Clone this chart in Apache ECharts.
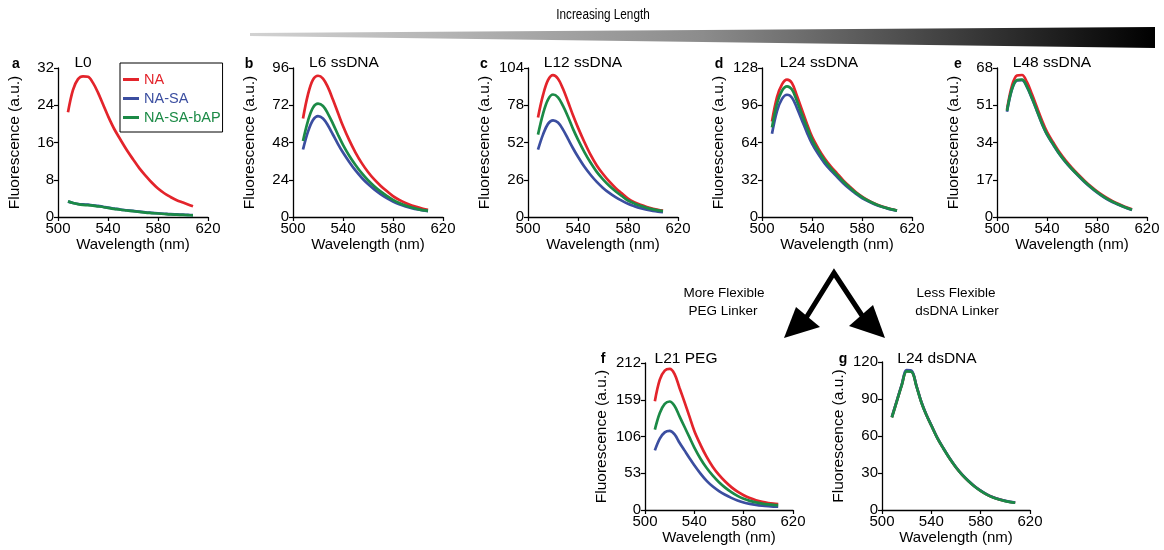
<!DOCTYPE html>
<html><head><meta charset="utf-8">
<script src="https://cdn.jsdelivr.net/npm/echarts@6/dist/echarts.min.js"></script>
<style>html,body{margin:0;padding:0;background:#fff}#c{width:1164px;height:550px}</style>
</head><body><div id="c"></div>
<script>
const wavelengths = [508,512,516,520,524,528,532,536,540,545,550,555,560,565,570,575,580,585,590,595,600,604,608];
const seriesNames = ['NA','NA-SA','NA-SA-bAP'];
const seriesColors = ['#e3242b','#3b4ea0','#1b8a46'];
const panelLetters = ['a','b','c','d','e','f','g'];
const panelTitles = ['L0','L6 ssDNA','L12 ssDNA','L24 ssDNA','L48 ssDNA','L21 PEG','L24 dsDNA'];
const yMax = [32,96,104,128,68,212,120];
const xTicks = [500,540,580,620];

// L0
const L0_NA       = [22.5,27.3,29.6,30.2,30.1,28.8,26.7,24.2,21.7,18.9,16.6,14.4,12.4,10.5,8.9,7.4,6.1,5.1,4.3,3.6,3.1,2.7,2.3];
const L0_NASA     = [3.3,3.0,2.8,2.7,2.65,2.5,2.4,2.2,2.0,1.8,1.6,1.45,1.3,1.15,1.0,0.9,0.8,0.7,0.6,0.55,0.5,0.45,0.4];
const L0_NASAbAP  = [3.4,3.0,2.75,2.6,2.55,2.45,2.3,2.15,1.95,1.75,1.55,1.4,1.25,1.1,0.95,0.85,0.75,0.65,0.55,0.5,0.45,0.4,0.35];
// L6 ssDNA
const L6_NA       = [63.5,79,88.5,91,89.2,83.5,75.5,67,58.6,49.5,41.5,34.7,29,24.2,20.2,16.7,13.5,11,9,7.4,6.2,5.3,4.6];
const L6_NASA     = [43.5,55,62.5,65,63.5,59,53,47,41.5,35.5,30,25.3,21.2,17.8,14.8,12.2,10,8.2,6.8,5.7,4.8,4.2,3.8];
const L6_NASAbAP  = [49,62,70.5,73,71.5,66.5,60,53,46.5,39.5,33.5,28.2,23.7,19.8,16.5,13.6,11,9,7.4,6.1,5.1,4.4,3.9];
// L12 ssDNA
const L12_NA      = [69.5,85,95.5,99,96.5,89.5,80.5,71,62.4,52.5,43.5,36,30,24.8,20.3,16.5,12.8,10.3,8.5,7,5.8,5,4.4];
const L12_NASA    = [47,57.5,65,67.5,66,61,54.5,48,42,35.2,29.5,24.5,20.3,16.8,13.9,11.4,9.2,7.6,6.2,5.1,4.3,3.8,3.4];
const L12_NASAbAP = [57.5,72,82,85.5,83.5,77.5,70,61.5,54,45.5,38,31.5,26.3,21.8,18,14.7,11.5,9.5,7.8,6.4,5.3,4.6,4.1];
// L24 ssDNA
const L24_NA      = [82,103,114,118,115,104,92,80,69,59,50.5,43.5,37.5,31.5,26.3,21.5,17.5,14.3,11.6,9.5,7.8,6.6,5.6];
const L24_NASA    = [71.6,91,101.5,105,102.5,93.5,83,72.5,63,54,46.3,40,34.5,29,24.2,20,16.3,13.4,11,9,7.4,6.3,5.4];
const L24_NASAbAP = [77,97.5,108.5,112.3,109.5,99.5,88,77,66.5,57,48.8,42,36.2,30.5,25.5,20.9,17.1,14,11.4,9.3,7.6,6.5,5.5];
// L48 ssDNA
const L48_NA      = [49,60,64.6,64.8,61.5,56,50,44,38.8,34,29.5,25.7,22.4,19.4,16.6,14,11.7,9.7,8,6.5,5.2,4.3,3.5];
const L48_NASA    = [48,58.3,62.3,62.5,59.3,54.1,48.3,42.5,37.6,33,28.6,24.9,21.7,18.8,16,13.5,11.2,9.2,7.5,6.1,4.9,4,3.2];
const L48_NASAbAP = [48.5,58.5,62.5,62.7,59.5,54.3,48.5,42.7,37.8,33.2,28.8,25.1,21.9,19,16.2,13.7,11.4,9.4,7.7,6.3,5,4.1,3.3];
// L21 PEG
const PEG_NA      = [157,188,201,203.5,196,176,156,135,114,94,76.5,62,50.5,41,33,26.5,21.3,17.2,14.1,11.8,10.1,9.1,8.4];
const PEG_NASA    = [86,103,112,114,109,97,86,75,64.5,52.5,42,33.8,27.3,22,17.5,13.7,10.9,8.9,7.4,6.3,5.5,5,4.7];
const PEG_NASAbAP = [116,140,153,156.5,150,135,120,105,90,74,60.5,49.5,40,32.3,25.8,20.4,16.3,13.2,10.9,9.3,8.1,7.4,7];
// L24 dsDNA
const DS_NA       = [75.2,88.2,101.2,112.6,112.2,100.2,87.2,77.1,68.6,58.1,49.6,41.6,34.6,28.6,23.6,19.2,15.6,12.6,10.3,8.6,7.3,6.5,5.9];
const DS_NASA     = [75.5,88.5,101.6,113.4,112.9,100.5,87.4,77.2,68.7,58.2,49.7,41.7,34.7,28.7,23.7,19.3,15.7,12.7,10.4,8.7,7.4,6.6,6.0];
const DS_NASAbAP  = [75,88,101,112.4,112,100,87,77,68.5,58,49.5,41.5,34.5,28.5,23.5,19.1,15.5,12.5,10.2,8.5,7.2,6.4,5.9];

const panelData = [
  [L0_NA, L0_NASA, L0_NASAbAP],
  [L6_NA, L6_NASA, L6_NASAbAP],
  [L12_NA, L12_NASA, L12_NASAbAP],
  [L24_NA, L24_NASA, L24_NASAbAP],
  [L48_NA, L48_NASA, L48_NASAbAP],
  [PEG_NA, PEG_NASA, PEG_NASAbAP],
  [DS_NA, DS_NASA, DS_NASAbAP]
];

const FONT = "'Liberation Sans', Arial, Helvetica, sans-serif";
// layout (pixels)
const grids = [
  {left:58, top:68, width:150, height:149},
  {left:293, top:68, width:150, height:149},
  {left:528, top:68, width:150, height:149},
  {left:762, top:68, width:150, height:149},
  {left:997, top:68, width:150, height:149},
  {left:645, top:363, width:148, height:147},
  {left:882, top:362, width:148, height:148}
];
const letterPos = [[16,64],[249,64],[484,64],[719,64],[958,64],[603,359],[843,359]];
const titlePos = [[83,63],[344,63],[583,63],[819,63],[1052,63],[686,359],[937,359]];

const xAxes = [], yAxes = [], series = [], graphics = [];
grids.forEach((g, i) => {
  xAxes.push({
    type:'value', gridIndex:i, min:xTicks[0], max:xTicks[xTicks.length-1], interval:40,
    axisLine:{show:true, onZero:false, lineStyle:{color:'#000', width:1.3}},
    axisTick:{show:true, length:4, lineStyle:{color:'#000', width:1.2}},
    axisLabel:{fontSize:15, color:'#000', margin:4, fontFamily:FONT},
    splitLine:{show:false},
    name:'Wavelength (nm)', nameLocation:'middle', nameGap:20,
    nameTextStyle:{fontSize:15, color:'#000', fontFamily:FONT, verticalAlign:'top'}
  });
  yAxes.push({
    type:'value', gridIndex:i, min:0, max:yMax[i], interval:yMax[i]/4,
    axisLine:{show:true, lineStyle:{color:'#000', width:1.3}},
    axisTick:{show:true, length:4, lineStyle:{color:'#000', width:1.2}},
    axisLabel:{fontSize:15, color:'#000', margin:4, fontFamily:FONT},
    splitLine:{show:false},
    name:'Fluorescence (a.u.)', nameLocation:'middle', nameGap:35,
    nameTextStyle:{fontSize:15.5, color:'#000', fontFamily:FONT}
  });
  panelData[i].forEach((vals, k) => {
    series.push({
      type:'line', name:seriesNames[k], xAxisIndex:i, yAxisIndex:i,
      data: wavelengths.map((w, j) => [w, vals[j]]),
      smooth:0.35, showSymbol:false, symbol:'none',
      lineStyle:{color:seriesColors[k], width:2.7},
      itemStyle:{color:seriesColors[k]},
      z: 2 + k, silent:true, animation:false
    });
  });
  graphics.push({
    type:'text', x:letterPos[i][0], y:letterPos[i][1],
    style:{text:panelLetters[i], fill:'#000', font:'bold 14px ' + FONT, textAlign:'center', textVerticalAlign:'middle', align:'center', verticalAlign:'middle'}
  });
  graphics.push({
    type:'text', x:titlePos[i][0], y:titlePos[i][1],
    style:{text:panelTitles[i], fill:'#000', font:'15.5px ' + FONT, textAlign:'center', textVerticalAlign:'middle', align:'center', verticalAlign:'middle'}
  });
});

// header wedge + text
graphics.push({
  type:'polygon',
  shape:{points:[[250,33],[1155,27],[1155,48],[250,36]]},
  style:{fill:new echarts.graphic.LinearGradient(0,0,1,0,[{offset:0,color:'#d2d2d2'},{offset:0.5,color:'#8c8c8c'},{offset:1,color:'#000'}])}
});
graphics.push({
  type:'text', x:603, y:15, scaleX:0.84,
  style:{text:'Increasing Length', fill:'#000', font:'14px ' + FONT, textAlign:'center', textVerticalAlign:'middle', align:'center', verticalAlign:'middle'}
});
// branching arrows
graphics.push({
  type:'polyline',
  shape:{points:[[806,318],[834,273],[863,317]]},
  style:{stroke:'#000', lineWidth:5, fill:null, lineJoin:'miter'}
});
graphics.push({type:'polygon', shape:{points:[[784,338],[796,307],[820,327]]}, style:{fill:'#000'}});
graphics.push({type:'polygon', shape:{points:[[885,338],[849,326],[873,305]]}, style:{fill:'#000'}});
const sideTexts = [['More Flexible',724,293],['PEG Linker',723,311],['Less Flexible',956,293],['dsDNA Linker',957,311]];
sideTexts.forEach(t => graphics.push({
  type:'text', x:t[1], y:t[2],
  style:{text:t[0], fill:'#000', font:'13.5px ' + FONT, textAlign:'center', textVerticalAlign:'middle', align:'center', verticalAlign:'middle'}
}));

const chart = echarts.init(document.getElementById('c'), null, {renderer:'canvas'});
chart.setOption({
  animation:false,
  backgroundColor:'#fff',
  grid: grids.map(g => Object.assign({containLabel:false}, g)),
  xAxis: xAxes,
  yAxis: yAxes,
  legend: {
    data: seriesNames.map((n, i) => ({name:n, textStyle:{color:seriesColors[i]}})),
    orient:'vertical', left:120, top:63, icon:'rect', itemWidth:16, itemHeight:3,
    itemGap:4, padding:[9,2,7,3], borderColor:'#000', borderWidth:1, backgroundColor:'#fff',
    textStyle:{fontSize:14.5, fontFamily:FONT}, selectedMode:false, z:10
  },
  series: series,
  graphic: graphics
});
</script></body></html>
